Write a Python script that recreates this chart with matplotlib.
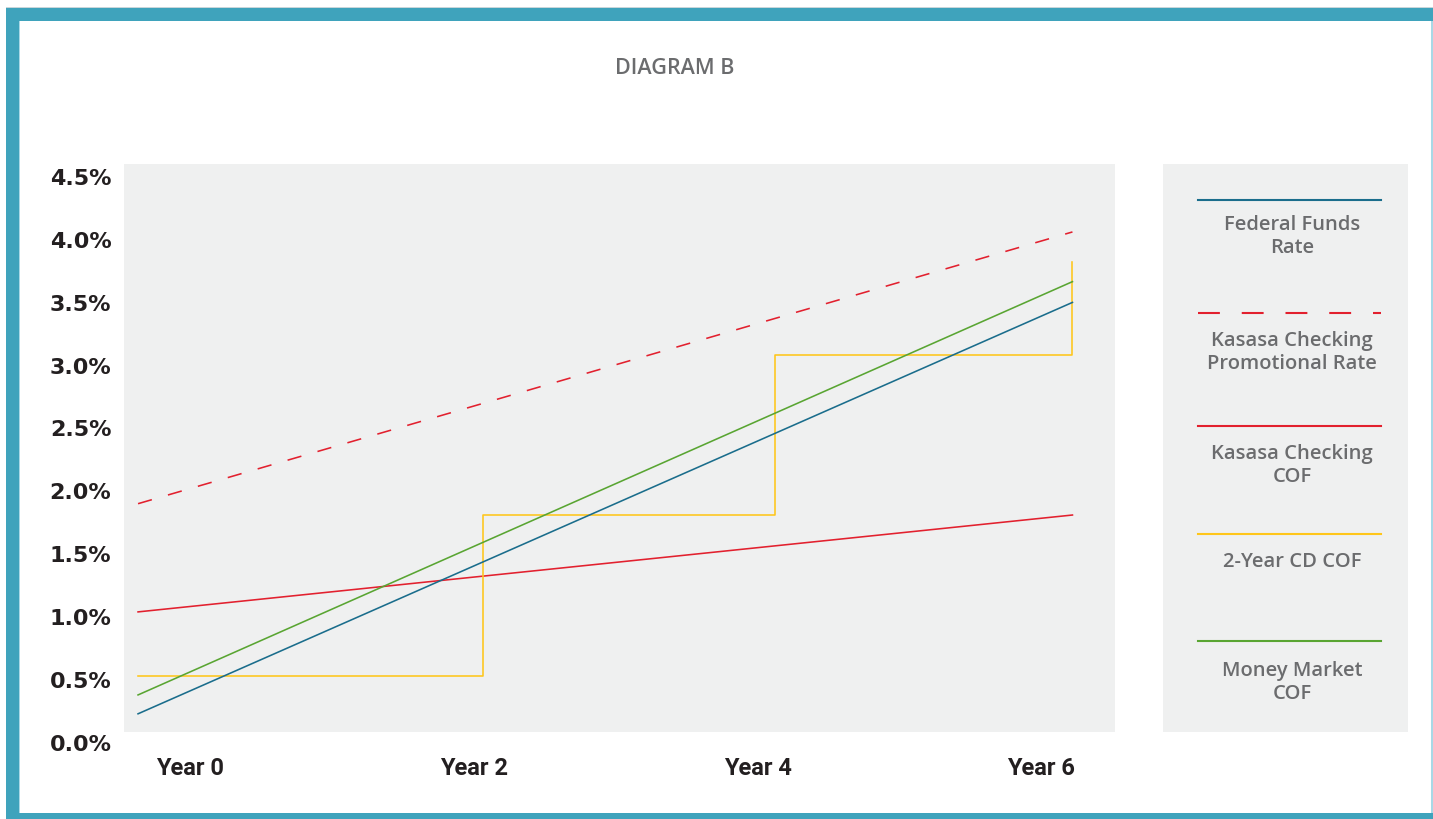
import matplotlib
matplotlib.use("Agg")
import matplotlib.pyplot as plt
from matplotlib.patches import Rectangle
from matplotlib.lines import Line2D
from matplotlib.transforms import ScaledTranslation

# ---------------- data ----------------
title = "DIAGRAM B"
year_ticks = [0, 2, 4, 6]
year_labels = ["Year 0", "Year 2", "Year 4", "Year 6"]
y_ticks = [0.0, 0.5, 1.0, 1.5, 2.0, 2.5, 3.0, 3.5, 4.0, 4.5]
y_labels = ["0.0%", "0.5%", "1.0%", "1.5%", "2.0%", "2.5%", "3.0%", "3.5%", "4.0%", "4.5%"]

# straight-line series: start and end points (x in years, y in %)
line_x = [-0.37, 6.22]
fed_funds = [0.20, 3.47]
kasasa_promo = [1.87, 4.03]
kasasa_cof = [1.01, 1.78]
money_market = [0.35, 3.635]

# 2-year CD COF step series
cd_x = [-0.37, 2.06, 2.06, 4.12, 4.12, 6.22, 6.22]
cd_y = [0.50, 0.50, 1.78, 1.78, 3.05, 3.05, 3.79]

legend_names = ["Federal Funds\nRate", "Kasasa Checking\nPromotional Rate",
                "Kasasa Checking\nCOF", "2-Year CD COF", "Money Market\nCOF"]

# ---------------- style ----------------
C_BLUE = "#1A6D8C"
C_RED = "#E2202E"
C_YEL = "#FFC61A"
C_GRN = "#59A532"
C_BG = "#EFF0F0"
C_FRAME = "#3FA3BC"
C_TXT = "#6B6C6E"
C_TICK = "#231F20"

W, H = 1433, 820
fig = plt.figure(figsize=(W / 100, H / 100), dpi=100)
fig.patch.set_facecolor("white")


def fx(px):
    return px / W


def fy(py):
    return 1 - py / H


def frect(x0, y0, x1, y1, color, z=-2):
    fig.patches.append(Rectangle((fx(x0), fy(y1)), fx(x1) - fx(x0), fy(y0) - fy(y1),
                                 transform=fig.transFigure, facecolor=color,
                                 edgecolor="none", zorder=z))


# frame
frect(6, 8, 1433, 9, "#C9D6DA")
frect(6, 9, 1433, 22, C_FRAME)
frect(6, 9, 19, 820, C_FRAME)
frect(19, 22, 20, 814, "#A9D8E6")
frect(6, 814, 1433, 820, C_FRAME)
frect(1431, 22, 1433, 814, "#A9D8E6")

# plot background panel
frect(124, 165, 1115, 733, C_BG)

# title
fig.text(fx(675), fy(69), title, ha="center", va="center", fontsize=15.5,
         color=C_TXT, family="Open Sans", fontweight="semibold")

# main axes (transparent, extends a little below the grey panel so 0% sits under it)
ax = fig.add_axes([fx(124), fy(745), fx(1115) - fx(124), fy(165) - fy(745)])
ax.patch.set_alpha(0)
for s in ax.spines.values():
    s.set_visible(False)

lw = 1.15
ax.plot(line_x, kasasa_promo, color=C_RED, lw=lw, linestyle=(0, (9.0, 10.5)))
ax.plot(line_x, kasasa_cof, color=C_RED, lw=lw)
ax.plot(cd_x, cd_y, color=C_YEL, lw=lw)
ax.plot(line_x, money_market, color=C_GRN, lw=lw)
ax.plot(line_x, fed_funds, color=C_BLUE, lw=lw)

ax.set_xlim(-0.469, 6.52)
ax.set_ylim(-0.04, 4.57)
ax.set_xticks(year_ticks)
ax.set_xticklabels(year_labels)
ax.set_yticks(y_ticks)
ax.set_yticklabels(y_labels)
ax.tick_params(axis="both", length=0, colors=C_TICK)
ax.tick_params(axis="y", pad=9)
ax.tick_params(axis="x", pad=9)
shift = ScaledTranslation(0, -3 / 100, fig.dpi_scale_trans)
for lab in ax.get_yticklabels():
    lab.set_family("DejaVu Sans")
    lab.set_fontweight("bold")
    lab.set_fontsize(16)
    lab.set_color(C_TICK)
    lab.set_transform(lab.get_transform() + shift)
for lab in ax.get_xticklabels():
    lab.set_family("Roboto")
    lab.set_fontweight("bold")
    lab.set_fontsize(17)
    lab.set_color(C_TICK)

# legend panel
lax = fig.add_axes([fx(1163), fy(733), fx(1408) - fx(1163), fy(165) - fy(733)])
lax.set_facecolor(C_BG)
lax.set_xlim(0, 1)
lax.set_ylim(0, 1)
lax.set_xticks([])
lax.set_yticks([])
for s in lax.spines.values():
    s.set_visible(False)

leg_styles = [
    dict(color=C_BLUE, linestyle="-"),
    dict(color=C_RED, linestyle=(0, (10.5, 10.5))),
    dict(color=C_RED, linestyle="-"),
    dict(color=C_YEL, linestyle="-"),
    dict(color=C_GRN, linestyle="-"),
]
line_y = [0.937, 0.738, 0.539, 0.349, 0.161]
text_y = [0.874, 0.670, 0.471, 0.301, 0.089]
for name, st, ly, ty in zip(legend_names, leg_styles, line_y, text_y):
    lax.add_line(Line2D([0.143, 0.89], [ly, ly], lw=1.5, **st))
    lax.text(0.527, ty, name, ha="center", va="center", fontsize=14.5,
             color=C_TXT, family="Open Sans", fontweight="semibold",
             linespacing=1.15)

fig.savefig("out.png", dpi=100)
